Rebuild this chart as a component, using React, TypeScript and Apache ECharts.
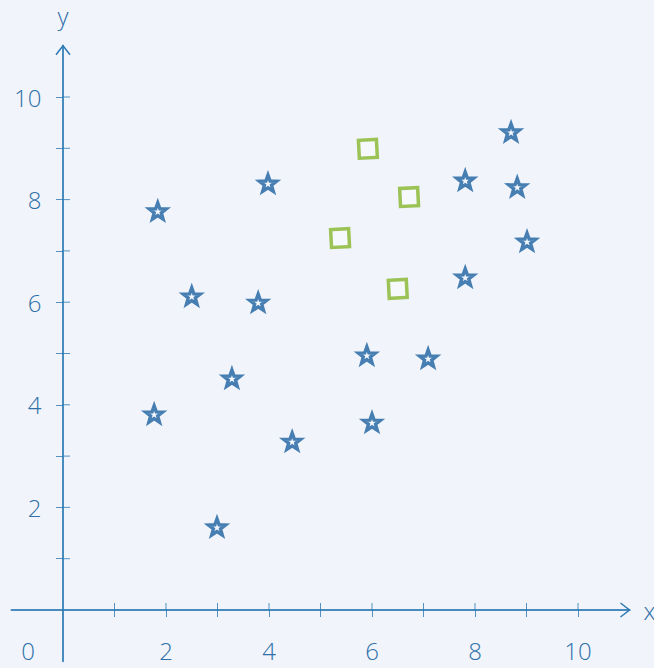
import React, { useEffect, useRef } from "react";
import * as echarts from "echarts";

const starPoints: number[][] = [
  [1.84, 7.78], [2.5, 6.12], [1.77, 3.82], [2.99, 1.62], [3.28, 4.52],
  [3.79, 6.0], [3.98, 8.32], [4.45, 3.29], [5.9, 4.97], [6.0, 3.66],
  [7.09, 4.91], [7.81, 6.49], [7.81, 8.38], [8.7, 9.32], [8.82, 8.25],
  [9.01, 7.19],
];
const squarePoints: number[][] = [
  [5.92, 8.99], [6.72, 8.05], [5.38, 7.25], [6.5, 6.26],
];
const tickValues = [1, 2, 3, 4, 5, 6, 7, 8, 9, 10];
const labelValues = [2, 4, 6, 8, 10];
const axisMin = -1;
const axisMax = 11;

const AXIS = "#2d78b4";
const LABEL = "#2f70a8";
const FONT = "'Open Sans', 'Noto Sans', sans-serif";
const STAR = "path://M50,0 L62,34 L98,35 L70,57 L80,92 L50,72 L20,92 L30,57 L2,35 L38,34 Z";

export default function App() {
  const ref = useRef<HTMLDivElement>(null);
  useEffect(() => {
    if (!ref.current) return;
    const chart = echarts.init(ref.current, undefined, { renderer: "svg" });
    const mkAxis = (dim: "x" | "y") => ({
      type: "value",
      min: axisMin,
      max: axisMax,
      interval: 1,
      name: dim,
      nameGap: dim === "x" ? 14 : 18,
      nameTextStyle: {
        color: LABEL, fontSize: 24, fontFamily: FONT, fontWeight: 300,
        padding: dim === "x" ? [0, 0, 10, 0] : 0,
      },
      axisLine: {
        show: true,
        onZero: true,
        lineStyle: { color: AXIS, width: 2, opacity: 0.85 },
      },
      axisTick: {
        show: true,
        inside: false,
        length: 7,
        customValues: tickValues,
        lineStyle: { color: AXIS, width: 1, opacity: 0.8 },
      },
      axisLabel: {
        show: true,
        customValues: labelValues,
        margin: dim === "x" ? -21 : -30,
        color: LABEL,
        fontSize: 24,
        lineHeight: 20,
        fontWeight: 300,
        fontFamily: FONT,
      },
      splitLine: { show: false },
    });
    chart.setOption({
      animation: false,
      backgroundColor: "#f1f5fb",
      grid: { left: 11.5, right: 24.5, top: 45.7, bottom: 6.7, containLabel: false, outerBoundsMode: "none" },
      xAxis: mkAxis("x"),
      yAxis: mkAxis("y"),
      series: [
        {
          type: "scatter",
          data: starPoints,
          symbol: STAR,
          symbolKeepAspect: true,
          symbolSize: 17,
          itemStyle: { color: "#f4f8fc", borderColor: "#1b60a0", borderWidth: 3.4 },
        },
        {
          type: "scatter",
          data: squarePoints,
          symbol: "rect",
          symbolSize: 18,
          symbolRotate: 3,
          itemStyle: { color: "rgba(255,255,255,0.5)", borderColor: "#86b52c", borderWidth: 3.5 },
        },
      ],
    });
    const px = (v: number[]) =>
      chart.convertToPixel({ xAxisIndex: 0, yAxisIndex: 0 }, v) as number[];
    const xe = px([axisMax, 0]);
    const ye = px([0, axisMax]);
    const o = px([0, 0]);
    const innerTicks: any[] = [];
    tickValues.forEach((t) => {
      const a = px([t, 0]);
      innerTicks.push({
        type: "line",
        shape: { x1: a[0], y1: a[1], x2: a[0], y2: a[1] - 7 },
        style: { stroke: AXIS, lineWidth: 1, opacity: 0.8 },
      });
      const b = px([0, t]);
      innerTicks.push({
        type: "line",
        shape: { x1: b[0], y1: b[1], x2: b[0] + 7, y2: b[1] },
        style: { stroke: AXIS, lineWidth: 1, opacity: 0.8 },
      });
    });
    chart.setOption({
      graphic: [
        ...innerTicks,
        {
          type: "polyline",
          shape: { points: [[xe[0] - 9, xe[1] - 7], [xe[0], xe[1]], [xe[0] - 9, xe[1] + 7]] },
          style: { stroke: AXIS, lineWidth: 1.5, fill: null },
        },
        {
          type: "polyline",
          shape: { points: [[ye[0] - 7, ye[1] + 9], [ye[0], ye[1]], [ye[0] + 7, ye[1] + 9]] },
          style: { stroke: AXIS, lineWidth: 1.5, fill: null },
        },
        {
          type: "text",
          x: o[0] - 35,
          y: o[1] + 40,
          style: { text: "0", fill: LABEL, fontSize: 24, lineHeight: 20, fontWeight: 300, fontFamily: FONT, align: "center", verticalAlign: "middle" },
        },
      ],
    });
    return () => chart.dispose();
  }, []);
  return (
    <div
      ref={ref}
      style={{ position: "fixed", left: 0, top: 0, width: 654, height: 668 }}
    />
  );
}
